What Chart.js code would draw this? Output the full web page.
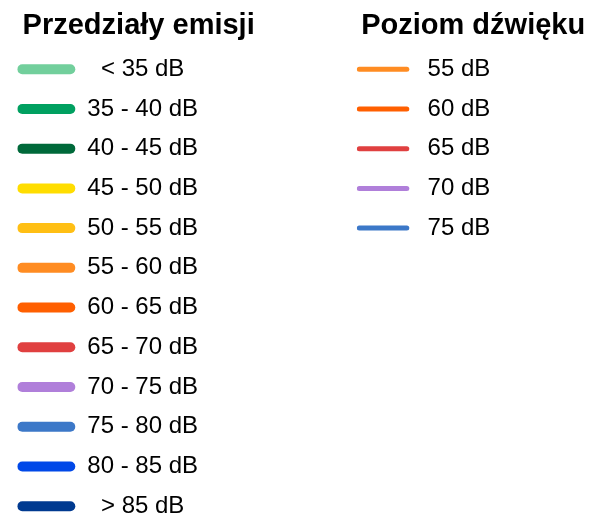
<!DOCTYPE html>
<html>
<head>
<meta charset="utf-8">
<script src="https://cdn.jsdelivr.net/npm/chart.js@4"></script>
<style>
  html, body { margin: 0; padding: 0; background: #fff; overflow: hidden; }
  #wrap { position: relative; width: 592px; height: 522px; overflow: hidden; }
  #wrap canvas { position: absolute; top: 0; }
</style>
</head>
<body>
<div id="wrap">
  <canvas id="emisje" width="400" height="560" style="left:0"></canvas>
  <canvas id="poziomy" width="300" height="560" style="left:340px"></canvas>
</div>
<script>
const emissionTitle = 'Przedziały emisji';
const emissionLabels = ['< 35 dB', '35 - 40 dB', '40 - 45 dB', '45 - 50 dB', '50 - 55 dB', '55 - 60 dB',
    '60 - 65 dB', '65 - 70 dB', '70 - 75 dB', '75 - 80 dB', '80 - 85 dB', '> 85 dB'];
const emissionColors = ['#72cf9c', '#00a060', '#00693a', '#ffdd00', '#ffbf14', '#ff8c22',
    '#ff5f00', '#e04040', '#b07fda', '#3c78c8', '#0048e8', '#003a90'];

const levelTitle = 'Poziom dźwięku';
const levelLabels = ['55 dB', '60 dB', '65 dB', '70 dB', '75 dB'];
const levelColors = ['#ff8c22', '#ff5f00', '#e04040', '#b07fda', '#3c78c8'];

const FONT = 'Liberation Sans, Arial, Helvetica, sans-serif';

// column heading, drawn above the legend
const headerPlugin = {
    id: 'header',
    afterDraw(chart, args, opts) {
        const ctx = chart.ctx;
        ctx.save();
        ctx.font = 'bold 29px ' + FONT;
        ctx.fillStyle = '#000';
        ctx.textAlign = 'left';
        ctx.textBaseline = 'middle';
        ctx.fillText(opts.text, opts.x, opts.y);
        ctx.restore();
    }
};

function legendChart(id, title, labels, colors, o) {
    const ctx = document.getElementById(id).getContext('2d');
    return new Chart(ctx, {
        type: 'line',
        data: {
            labels: [],
            datasets: labels.map((label, i) => ({
                label: label,
                data: [],
                borderColor: colors[i],
                backgroundColor: colors[i]
            }))
        },
        plugins: [headerPlugin],
        options: {
            responsive: false,
            animation: false,
            events: [],
            layout: { padding: { left: o.left, top: o.top, right: 0, bottom: 0 } },
            scales: { x: { display: false }, y: { display: false } },
            plugins: {
                header: { text: title, x: o.headerX, y: 25.5 },
                tooltip: { enabled: false },
                legend: {
                    position: 'left',
                    align: 'start',
                    maxWidth: o.maxWidth,
                    labels: {
                        usePointStyle: true,
                        pointStyleWidth: o.lineLength,
                        padding: o.padding,
                        textAlign: o.textAlign,
                        color: '#000',
                        font: { family: FONT, size: 24, lineHeight: (39.73 - o.padding) / 24 },
                        generateLabels: chart => chart.data.datasets.map((ds, i) => ({
                            text: [ds.label],
                            fillStyle: ds.borderColor,
                            strokeStyle: ds.borderColor,
                            fontColor: '#000',
                            lineWidth: o.lineWidth,
                            lineCap: 'round',
                            pointStyle: 'line',
                            hidden: false,
                            datasetIndex: i
                        }))
                    }
                }
            }
        }
    });
}

legendChart('emisje', emissionTitle, emissionLabels, emissionColors, {
    left: 17.3, top: 52.2, padding: 5, headerX: 22.6,
    lineLength: 48, lineWidth: 10, textAlign: 'center'
});

legendChart('poziomy', levelTitle, levelLabels, levelColors, {
    left: 16.8, top: 54.7, padding: 2.5, headerX: 21.2,
    lineLength: 47.5, lineWidth: 5, textAlign: 'right', maxWidth: 133.5
});
</script>
</body>
</html>
